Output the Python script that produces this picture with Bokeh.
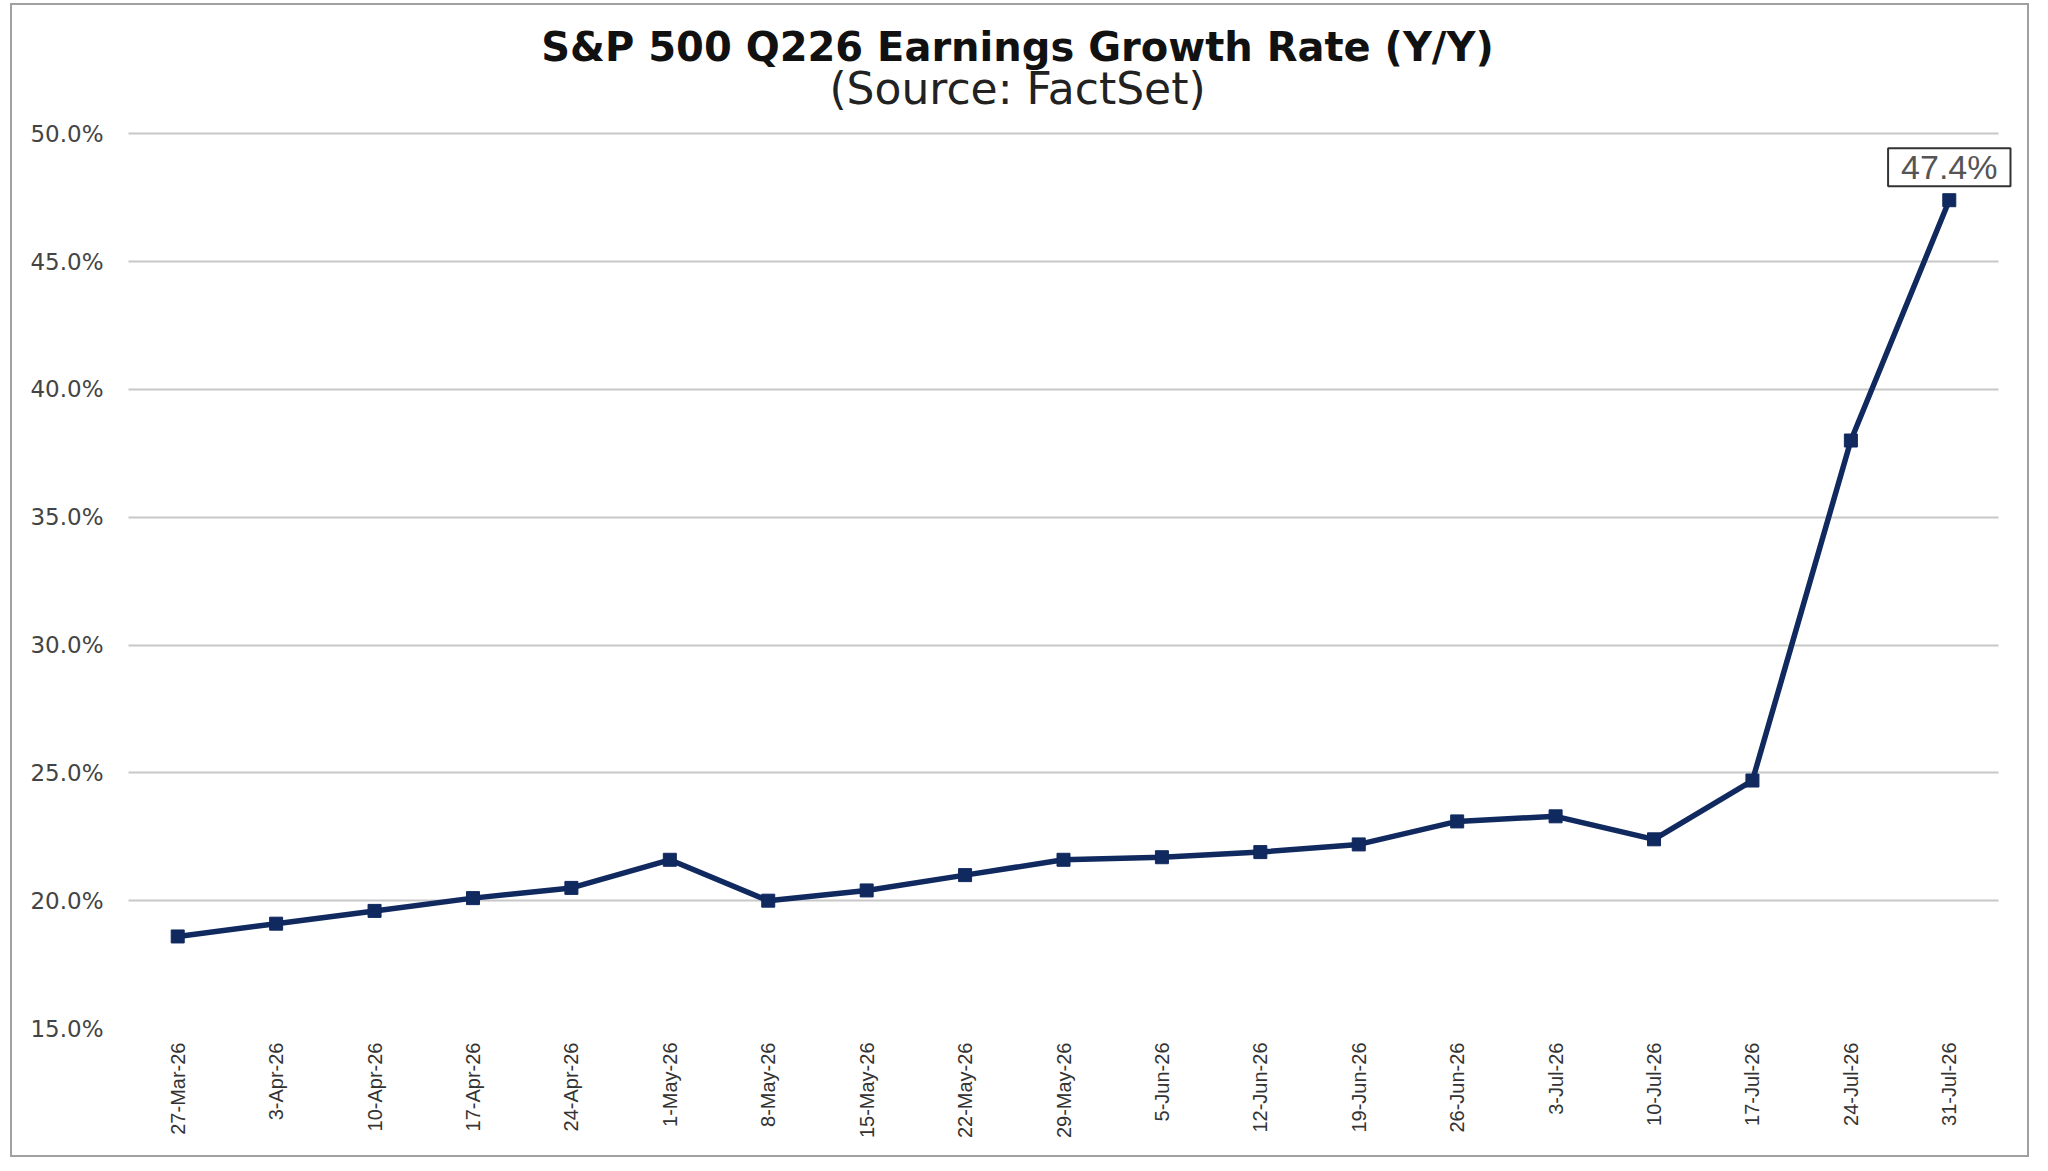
import math
from bokeh.plotting import figure
from bokeh.models import (ColumnDataSource, Range1d, FactorRange, Label, FixedTicker,
                          CustomJSTickFormatter, Grid)
from bokeh.embed import file_html
from bokeh.resources import INLINE

dates = ["27-Mar-26", "3-Apr-26", "10-Apr-26", "17-Apr-26", "24-Apr-26", "1-May-26",
         "8-May-26", "15-May-26", "22-May-26", "29-May-26", "5-Jun-26", "12-Jun-26",
         "19-Jun-26", "26-Jun-26", "3-Jul-26", "10-Jul-26", "17-Jul-26", "24-Jul-26",
         "31-Jul-26"]
growth = [18.6, 19.1, 19.6, 20.1, 20.5, 21.6, 20.0, 20.4, 21.0, 21.6, 21.7, 21.9,
          22.2, 23.1, 23.3, 22.4, 24.7, 38.0, 47.4]
y_ticks = [15, 20, 25, 30, 35, 40, 45, 50]
title_text = "S&P 500 Q226 Earnings Growth Rate (Y/Y)"
subtitle_text = "(Source: FactSet)"
label_text = "47.4%"

NAVY = "#10295f"

# a little padding on both sides of the categories so the value label is not clipped;
# the gridlines are bounded to the category span
x_range = FactorRange(factors=dates, range_padding=0.1626, range_padding_units="absolute")

# frame extends above the 50% gridline so the titles can sit inside it
p = figure(x_range=x_range, y_range=Range1d(15, 54.43), width=2019, height=1154,
           output_backend="svg", toolbar_location=None, title=None,
           min_border_left=100, min_border_right=17, min_border_top=15,
           min_border_bottom=131)
p.styles = {"border": "2px solid #a0a0a0", "margin-left": "10px", "margin-top": "3px"}
p.outline_line_color = None
p.background_fill_color = "white"
p.border_fill_color = "white"

# grid
p.xgrid.grid_line_color = None
ygrid = p.ygrid[0]
ygrid.ticker = FixedTicker(ticks=y_ticks)
if "cross_bounds" in Grid.properties():
    ygrid.grid_line_color = "#c8c8c8"
    ygrid.grid_line_width = 2
    ygrid.cross_bounds = (0, len(dates))
else:
    ygrid.grid_line_color = None
    p.segment(x0=[0] * len(y_ticks), x1=[len(dates)] * len(y_ticks), y0=y_ticks, y1=y_ticks,
              line_color="#c8c8c8", line_width=2, level="underlay")

src = ColumnDataSource(dict(x=dates, y=growth))
p.line("x", "y", source=src, line_color=NAVY, line_width=5.5)
p.scatter("x", "y", source=src, marker="square", size=13, fill_color=NAVY, line_color=NAVY)

# data label for the last point (categorical synthetic coordinate: index + 0.5)
p.add_layout(Label(x=len(dates) - 0.5, y=growth[-1], y_offset=33, text=label_text,
                   text_align="center", text_baseline="middle",
                   text_font="Liberation Sans", text_font_size="34px", text_color="#555555",
                   background_fill_color="white", border_line_color="#333333",
                   border_line_width=2, padding=(13, 0)))

# y axis
p.yaxis.ticker = FixedTicker(ticks=y_ticks)
p.yaxis.formatter = CustomJSTickFormatter(code="return tick.toFixed(1) + '%';")
p.yaxis.axis_line_color = None
p.yaxis.major_tick_line_color = None
p.yaxis.minor_tick_line_color = None
p.yaxis.major_label_standoff = 3
p.yaxis.major_label_text_font = "DejaVu Sans"
p.yaxis.major_label_text_font_size = "23px"
p.yaxis.major_label_text_color = "#444444"

# x axis
p.xaxis.axis_line_color = None
p.xaxis.major_tick_line_color = None
p.xaxis.minor_tick_line_color = None
p.xaxis.major_label_orientation = math.pi / 2
p.xaxis.major_label_standoff = 8
p.xaxis.major_label_text_font = "Liberation Sans"
p.xaxis.major_label_text_font_size = "20px"
p.xaxis.major_label_text_color = "#333333"

# titles (screen units measured from the frame's bottom-left corner)
p.add_layout(Label(x=905, y=982, x_units="screen", y_units="screen", text=title_text,
                   text_align="center", text_baseline="middle",
                   text_font="DejaVu Sans", text_font_style="bold",
                   text_font_size="40px", text_color="#111111"))
p.add_layout(Label(x=905, y=940, x_units="screen", y_units="screen", text=subtitle_text,
                   text_align="center", text_baseline="middle",
                   text_font="DejaVu Sans", text_font_size="44px", text_color="#222222"))

open("out.html", "w").write(file_html(p, INLINE))
